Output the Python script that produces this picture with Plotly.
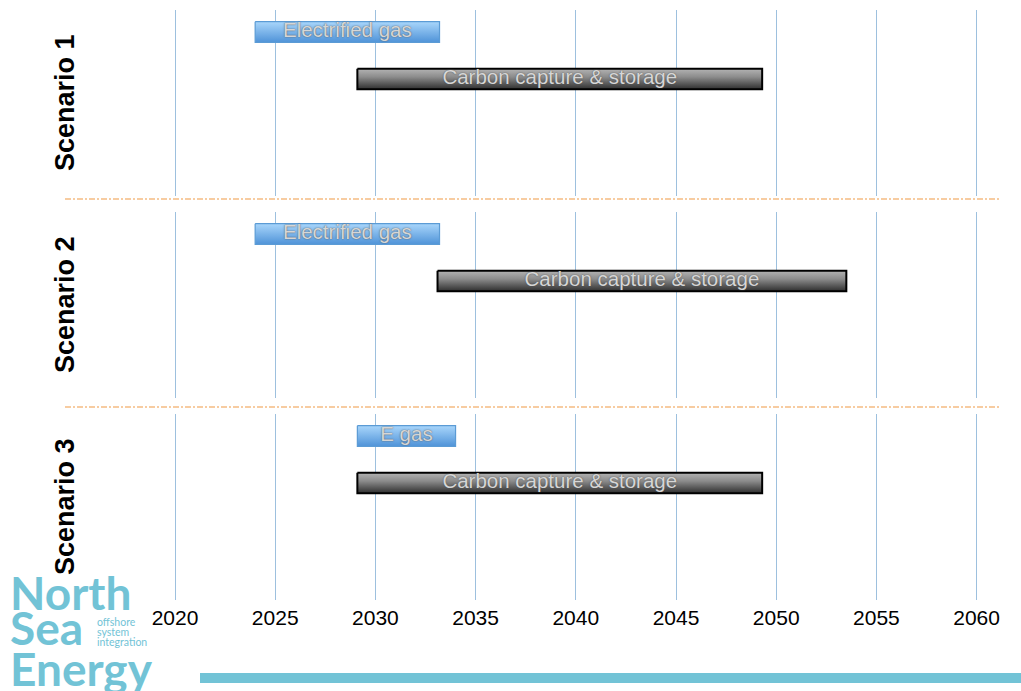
import plotly.graph_objects as go
from plotly.subplots import make_subplots

# ---------------- data ----------------
years = [2020, 2025, 2030, 2035, 2040, 2045, 2050, 2055, 2060]
scenarios = ["Scenario 1", "Scenario 2", "Scenario 3"]
gas_labels = ["Electrified gas", "Electrified gas", "E gas"]
gas_start = [2024.0, 2024.0, 2029.1]
gas_end = [2033.2, 2033.2, 2034.0]
ccs_labels = ["Carbon capture & storage", "Carbon capture & storage", "Carbon capture & storage"]
ccs_start = [2029.1, 2033.1, 2029.1]
ccs_end = [2049.3, 2053.5, 2049.3]
lanes = [0, 1]  # gas lane, ccs lane

# ---------------- layout geometry ----------------
W, H = 1021, 691
ML, MR, MT, MB = 65, 20, 10, 91
PW = W - ML - MR
PH = H - MT - MB


def px_x(p):
    return (p - ML) / PW


def px_y(p):
    return (H - MB - p) / PH


domains = [
    [px_y(196), px_y(10)],
    [px_y(398), px_y(212)],
    [px_y(600), px_y(414)],
]

fig = make_subplots(rows=3, cols=1, shared_xaxes=True, vertical_spacing=0.02)

half = 0.22
FONT = "Liberation Sans, Arial, sans-serif"


def add_bar(row, start, end, lane, label, kind):
    if kind == "gas":
        line_col, width = "#5b9bd5", 1.2
        grad = [[0, "#4f93d8"], [1, "#a9d6fb"]]
    else:
        line_col, width = "#000000", 2
        grad = [[0, "#2e2e2e"], [0.6, "#8c8c8c"], [1, "#b4b4b4"]]
    fig.add_trace(
        go.Scatter(
            x=[start, end, end, start, start],
            y=[lane - half, lane - half, lane + half, lane + half, lane - half],
            mode="lines",
            fill="toself",
            fillgradient=dict(type="vertical", colorscale=grad),
            line=dict(color=line_col, width=width),
            hoverinfo="skip",
            showlegend=False,
        ),
        row=row, col=1,
    )
    fig.add_trace(
        go.Scatter(
            x=[(start + end) / 2],
            y=[lane],
            mode="text",
            text=[label],
            textposition="middle center",
            textfont=dict(family=FONT, size=20.5, color="#d6d6d6",
                          shadow="0px 0px 1.5px #4a4a4a"),
            hoverinfo="skip",
            showlegend=False,
        ),
        row=row, col=1,
    )


for i in range(3):
    add_bar(i + 1, gas_start[i], gas_end[i], lanes[0], gas_labels[i], "gas")
    add_bar(i + 1, ccs_start[i], ccs_end[i], lanes[1], ccs_labels[i], "ccs")

x0 = 2020 - (175 - ML) / 20.04
x1 = x0 + PW / 20.04
yrng = [186 / 47 - 22 / 47, -22 / 47]

for i in range(3):
    r = i + 1
    fig.update_xaxes(
        range=[x0, x1], tickvals=years, showgrid=True, gridcolor="#9dc0de",
        gridwidth=1, zeroline=False, showline=False, ticks="",
        showticklabels=(r == 3), row=r, col=1,
        tickfont=dict(family=FONT, size=21, color="#000000"),
    )
    fig.update_yaxes(
        range=yrng, showgrid=False, zeroline=False, showticklabels=False,
        showline=False, domain=domains[i], row=r, col=1,
    )

fig.update_xaxes(ticklabelstandoff=3, row=3, col=1)

annotations = []
for i, name in enumerate(scenarios):
    annotations.append(dict(
        x=px_x(65), y=(domains[i][0] + domains[i][1]) / 2, xref="paper", yref="paper",
        text="<b>%s</b>" % name, showarrow=False, textangle=-90,
        xanchor="center", yanchor="middle",
        font=dict(family=FONT, size=27, color="#000000"),
    ))

TEAL = "#72c3d6"
LOGO = "Lato, sans-serif"
for txt, py in [("North", 592), ("Sea", 627), ("Energy", 668)]:
    annotations.append(dict(
        x=px_x(8), y=px_y(py), xref="paper", yref="paper", text="<b>%s</b>" % txt,
        showarrow=False, xanchor="left", yanchor="middle",
        font=dict(family=LOGO, size=46, color=TEAL, weight=900)))
for txt, py in [("offshore", 622), ("system", 632), ("integration", 642)]:
    annotations.append(dict(
        x=px_x(95), y=px_y(py), xref="paper", yref="paper", text=txt,
        showarrow=False, xanchor="left", yanchor="middle",
        font=dict(family=LOGO, size=10.5, color=TEAL)))

shapes = [
    dict(type="line", xref="paper", yref="paper", x0=0, x1=1,
         y0=px_y(199), y1=px_y(199),
         line=dict(color="#ef9a45", width=1.2, dash="6px,2px,2px,2px")),
    dict(type="line", xref="paper", yref="paper", x0=0, x1=1,
         y0=px_y(407), y1=px_y(407),
         line=dict(color="#ef9a45", width=1.2, dash="6px,2px,2px,2px")),
    dict(type="rect", xref="paper", yref="paper", x0=px_x(200), x1=px_x(1030),
         y0=px_y(683), y1=px_y(673), fillcolor=TEAL, line=dict(width=0)),
]

fig.update_layout(
    width=W, height=H,
    margin=dict(l=ML, r=MR, t=MT, b=MB),
    paper_bgcolor="white", plot_bgcolor="white",
    annotations=annotations, shapes=shapes,
    showlegend=False,
)

fig.write_html("out.html")
